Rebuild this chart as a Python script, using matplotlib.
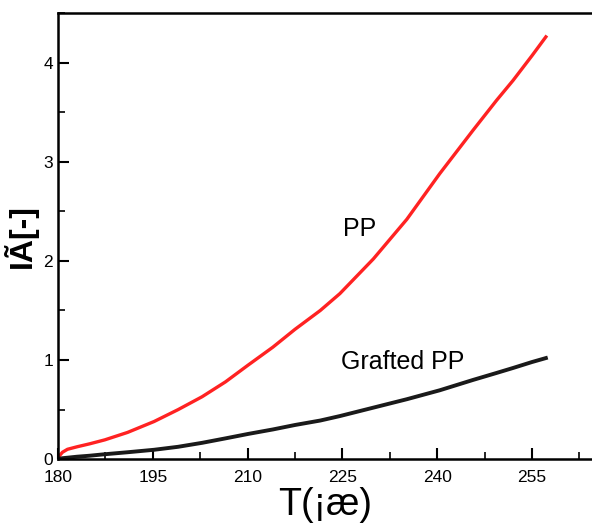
import matplotlib.pyplot as plt
from matplotlib.ticker import MultipleLocator

plt.rcParams['font.family'] = ['Liberation Sans', 'DejaVu Sans']

# temperature (x) and values
temp = [180, 180.3, 180.7, 181.5, 183, 185, 187.4, 191, 195.2, 199, 202.8,
        206.5, 210.1, 214, 217.5, 221.5, 224.6, 229.9, 235.2, 240.4,
        245.7, 249.4, 252, 255, 257.2]
pp = [0.0, 0.04, 0.07, 0.10, 0.125, 0.155, 0.195, 0.27, 0.38, 0.50, 0.63,
      0.78, 0.95, 1.13, 1.31, 1.50, 1.67, 2.02, 2.42, 2.88,
      3.32, 3.62, 3.82, 4.07, 4.26]
grafted = [0.0, 0.005, 0.01, 0.015, 0.025, 0.035, 0.05, 0.07, 0.095, 0.125, 0.165,
           0.21, 0.255, 0.30, 0.345, 0.39, 0.435, 0.52, 0.605, 0.695,
           0.80, 0.87, 0.92, 0.98, 1.02]

x_ticks = [180, 195, 210, 225, 240, 255]
y_ticks = [0, 1, 2, 3, 4]

fig = plt.figure(figsize=(5.92, 5.23), dpi=100)
ax = fig.add_axes([0.098, 0.122, 0.902, 0.853])

ax.plot(temp, pp, color='#ff2222', lw=2.4)
ax.plot(temp, grafted, color='#1a1a1a', lw=2.8)

ax.text(227.8, 2.32, 'PP', fontsize=18, ha='center', va='center')
ax.text(234.6, 0.98, 'Grafted PP', fontsize=18, ha='center', va='center')

ax.set_xlim(180, 264.5)
ax.set_ylim(0, 4.5)
ax.set_xticks(x_ticks)
ax.set_yticks(y_ticks)
ax.xaxis.set_minor_locator(MultipleLocator(7.5))
ax.yaxis.set_minor_locator(MultipleLocator(0.5))
ax.tick_params(which='major', direction='in', length=8, width=1.5, labelsize=12.5)
ax.tick_params(which='minor', direction='in', length=5, width=1.2)
ax.tick_params(axis='x', which='major', pad=8)
ax.tick_params(axis='y', which='both', left=True, right=False)
ax.tick_params(axis='x', which='both', top=False)

for s in ['left', 'bottom', 'top']:
    ax.spines[s].set_linewidth(1.8)
ax.spines['right'].set_visible(False)

ax.set_xlabel('T(¡æ)', fontsize=27, labelpad=1)
ax.set_ylabel('IÃ[-]', fontsize=23, fontweight='bold', labelpad=4)

fig.savefig('out.png', dpi=100)
